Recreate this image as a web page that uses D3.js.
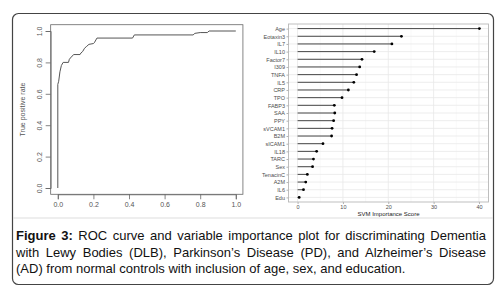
<!DOCTYPE html>
<html>
<head>
<meta charset="utf-8">
<script src="https://cdn.jsdelivr.net/npm/d3@7"></script>
<style>
  body { margin: 0; background: #fff; }
  #wrap { position: relative; width: 503px; height: 286px; }
  svg { position: absolute; left: 0; top: 0; }
  .caption { position: absolute; left: 16px; top: 228px; width: 470px;
    font-family: "Liberation Sans", Arial, sans-serif; font-size: 13px; line-height: 16.5px; color: #111; }
  .caption div { text-align: justify; text-align-last: justify; white-space: nowrap; }
  .caption div.last { text-align-last: left; }
  .tick-l { font-family: "Liberation Sans", Arial, sans-serif; font-size: 7px; fill: #555; }
  .tick-r { font-family: "Liberation Sans", Arial, sans-serif; font-size: 5.5px; fill: #4d4d4d; }
</style>
</head>
<body>
<div id="wrap">
<svg id="fig" width="503" height="286"></svg>
<div class="caption">
  <div><b>Figure 3:</b> ROC curve and variable importance plot for discriminating Dementia</div>
  <div>with Lewy Bodies (DLB), Parkinson’s Disease (PD), and Alzheimer’s Disease</div>
  <div class="last">(AD) from normal controls with inclusion of age, sex, and education.</div>
</div>
</div>
<script>
// ---------- data

// ROC curve (false positive rate, true positive rate)
const fpr = [0, 0, 0.005, 0.012, 0.02, 0.03, 0.06, 0.065, 0.08, 0.09, 0.125, 0.13, 0.14, 0.15, 0.16, 0.175, 0.2, 0.205, 0.22, 0.42, 0.43, 0.76, 0.77, 0.8, 0.84, 0.85, 1.0];
const tpr = [0, 0.66, 0.68, 0.74, 0.78, 0.80, 0.80, 0.82, 0.84, 0.85, 0.85, 0.86, 0.87, 0.89, 0.90, 0.915, 0.92, 0.925, 0.955, 0.955, 0.975, 0.975, 0.985, 0.99, 0.99, 1.0, 1.0];
const rocTicks = [0, 0.2, 0.4, 0.6, 0.8, 1.0];
const rocYLabel = 'True positive rate';

// variable importance
const variables = ['Age', 'Eotaxin3', 'IL7', 'IL10', 'Factor7', 'I309', 'TNFA', 'IL5', 'CRP', 'TPO', 'FABP3', 'SAA', 'PPY', 'sVCAM1', 'B2M', 'sICAM1', 'IL18', 'TARC', 'Sex', 'TenacinC', 'A2M', 'IL6', 'Edu'];
const importance = [40.1, 22.9, 20.8, 16.9, 14.2, 13.7, 13.0, 12.4, 11.2, 9.8, 8.1, 8.2, 7.95, 7.6, 7.5, 5.6, 4.2, 3.5, 3.3, 2.15, 1.8, 1.3, 0.35];
const impTicks = [0, 10, 20, 30, 40];
const impMinor = [5, 15, 25, 35];
const impXLabel = 'SVM Importance Score';

const svg = d3.select('#fig');

// ---------- frame
svg.append('rect')
  .attr('x', 12.5).attr('y', 13.5)
  .attr('width', 481).attr('height', 271)
  .attr('rx', 6)
  .attr('fill', 'none')
  .attr('stroke', '#444')
  .attr('stroke-width', 1.2);

// ---------- left panel: ROC
const rx = d3.scaleLinear().domain([0, 1]).range([57.8, 235.8]);
const ry = d3.scaleLinear().domain([0, 1]).range([188, 31]);
const bx0 = rx(-0.04), bx1 = rx(1.04), by0 = ry(1.04), by1 = ry(-0.04);

const left = svg.append('g');

left.append('rect')
  .attr('x', bx0).attr('y', by0)
  .attr('width', bx1 - bx0).attr('height', by1 - by0)
  .attr('fill', 'none').attr('stroke', '#666').attr('stroke-width', 0.8);

// x axis
const xAx = left.append('g')
  .attr('transform', `translate(0, ${by1})`)
  .call(d3.axisBottom(rx).tickValues(rocTicks).tickFormat(d3.format('.1f')).tickSize(5).tickPadding(3));
xAx.select('.domain').attr('stroke', '#666').attr('stroke-width', 0.8);
xAx.selectAll('line').attr('stroke', '#666').attr('stroke-width', 0.8);
xAx.selectAll('text').attr('class', 'tick-l').attr('font-size', null).attr('font-family', null).attr('fill', null);

// y axis (labels rotated like base R)
const yAx = left.append('g')
  .attr('transform', `translate(${bx0}, 0)`)
  .call(d3.axisLeft(ry).tickValues(rocTicks).tickFormat(d3.format('.1f')).tickSize(5));
yAx.select('.domain').attr('stroke', '#666').attr('stroke-width', 0.8);
yAx.selectAll('line').attr('stroke', '#666').attr('stroke-width', 0.8);
yAx.selectAll('text')
  .attr('class', 'tick-l').attr('font-size', null).attr('font-family', null).attr('fill', null)
  .attr('x', null).attr('dy', null)
  .attr('transform', 'translate(-11, 0) rotate(-90)')
  .attr('text-anchor', 'middle')
  .attr('dominant-baseline', 'middle');

left.append('text')
  .attr('class', 'tick-l')
  .attr('transform', `translate(23, ${(by0 + by1) / 2}) rotate(-90)`)
  .attr('text-anchor', 'middle')
  .attr('dominant-baseline', 'middle')
  .text(rocYLabel);

const rocData = fpr.map((f, i) => ({f: f, t: tpr[i]}));
left.append('path')
  .datum(rocData)
  .attr('fill', 'none')
  .attr('stroke', '#555')
  .attr('stroke-width', 1)
  .attr('d', d3.line().x(d => rx(d.f)).y(d => ry(d.t)));

// ---------- right panel: importance lollipop
const ix = d3.scaleLinear().domain([-2.005, 42.105]).range([288.5, 488.5]);
const iy = d3.scalePoint().domain(variables).range([24, 202]).padding(0.6);

const right = svg.append('g');
const px0 = 288.5, px1 = 488.5, py0 = 24, py1 = 202;

// minor grid
right.selectAll('.vminor').data(impMinor).join('line')
  .attr('x1', d => ix(d)).attr('x2', d => ix(d))
  .attr('y1', py0).attr('y2', py1)
  .attr('stroke', '#f2f2f2').attr('stroke-width', 0.5);
// major grid
right.selectAll('.vmajor').data(impTicks).join('line')
  .attr('x1', d => ix(d)).attr('x2', d => ix(d))
  .attr('y1', py0).attr('y2', py1)
  .attr('stroke', '#e8e8e8').attr('stroke-width', 0.8);
right.selectAll('.hmajor').data(variables).join('line')
  .attr('x1', px0).attr('x2', px1)
  .attr('y1', d => iy(d)).attr('y2', d => iy(d))
  .attr('stroke', '#e8e8e8').attr('stroke-width', 0.8);

// lollipops
const impData = variables.map((v, i) => ({v: v, s: importance[i]}));
right.selectAll('.seg').data(impData).join('line')
  .attr('x1', ix(0)).attr('x2', d => ix(d.s))
  .attr('y1', d => iy(d.v)).attr('y2', d => iy(d.v))
  .attr('stroke', '#333').attr('stroke-width', 0.9);
right.selectAll('.dot').data(impData).join('circle')
  .attr('cx', d => ix(d.s)).attr('cy', d => iy(d.v))
  .attr('r', 1.4).attr('fill', '#000');

// panel border
right.append('rect')
  .attr('x', px0).attr('y', py0)
  .attr('width', px1 - px0).attr('height', py1 - py0)
  .attr('fill', 'none').attr('stroke', '#b8b8b8').attr('stroke-width', 0.9);

// axes
const ixAx = right.append('g')
  .attr('transform', `translate(0, ${py1})`)
  .call(d3.axisBottom(ix).tickValues(impTicks).tickSize(2).tickPadding(1));
ixAx.select('.domain').remove();
ixAx.selectAll('line').attr('stroke', '#b3b3b3');
ixAx.selectAll('text').attr('class', 'tick-r').attr('font-size', null).attr('font-family', null).attr('fill', null);

const iyAx = right.append('g')
  .attr('transform', `translate(${px0}, 0)`)
  .call(d3.axisLeft(iy).tickSize(2).tickPadding(1.5));
iyAx.select('.domain').remove();
iyAx.selectAll('line').attr('stroke', '#b3b3b3');
iyAx.selectAll('text').attr('class', 'tick-r').attr('font-size', null).attr('font-family', null).attr('fill', null);

right.append('text')
  .attr('x', (px0 + px1) / 2)
  .attr('y', 216)
  .attr('text-anchor', 'middle')
  .attr('font-family', 'Liberation Sans, Arial, sans-serif')
  .attr('font-size', 6)
  .attr('fill', '#222')
  .text(impXLabel);

// separator between figure and caption
svg.append('line')
  .attr('x1', 13).attr('x2', 493)
  .attr('y1', 218).attr('y2', 218)
  .attr('stroke', '#ddd').attr('stroke-width', 1);
</script>
</body>
</html>
